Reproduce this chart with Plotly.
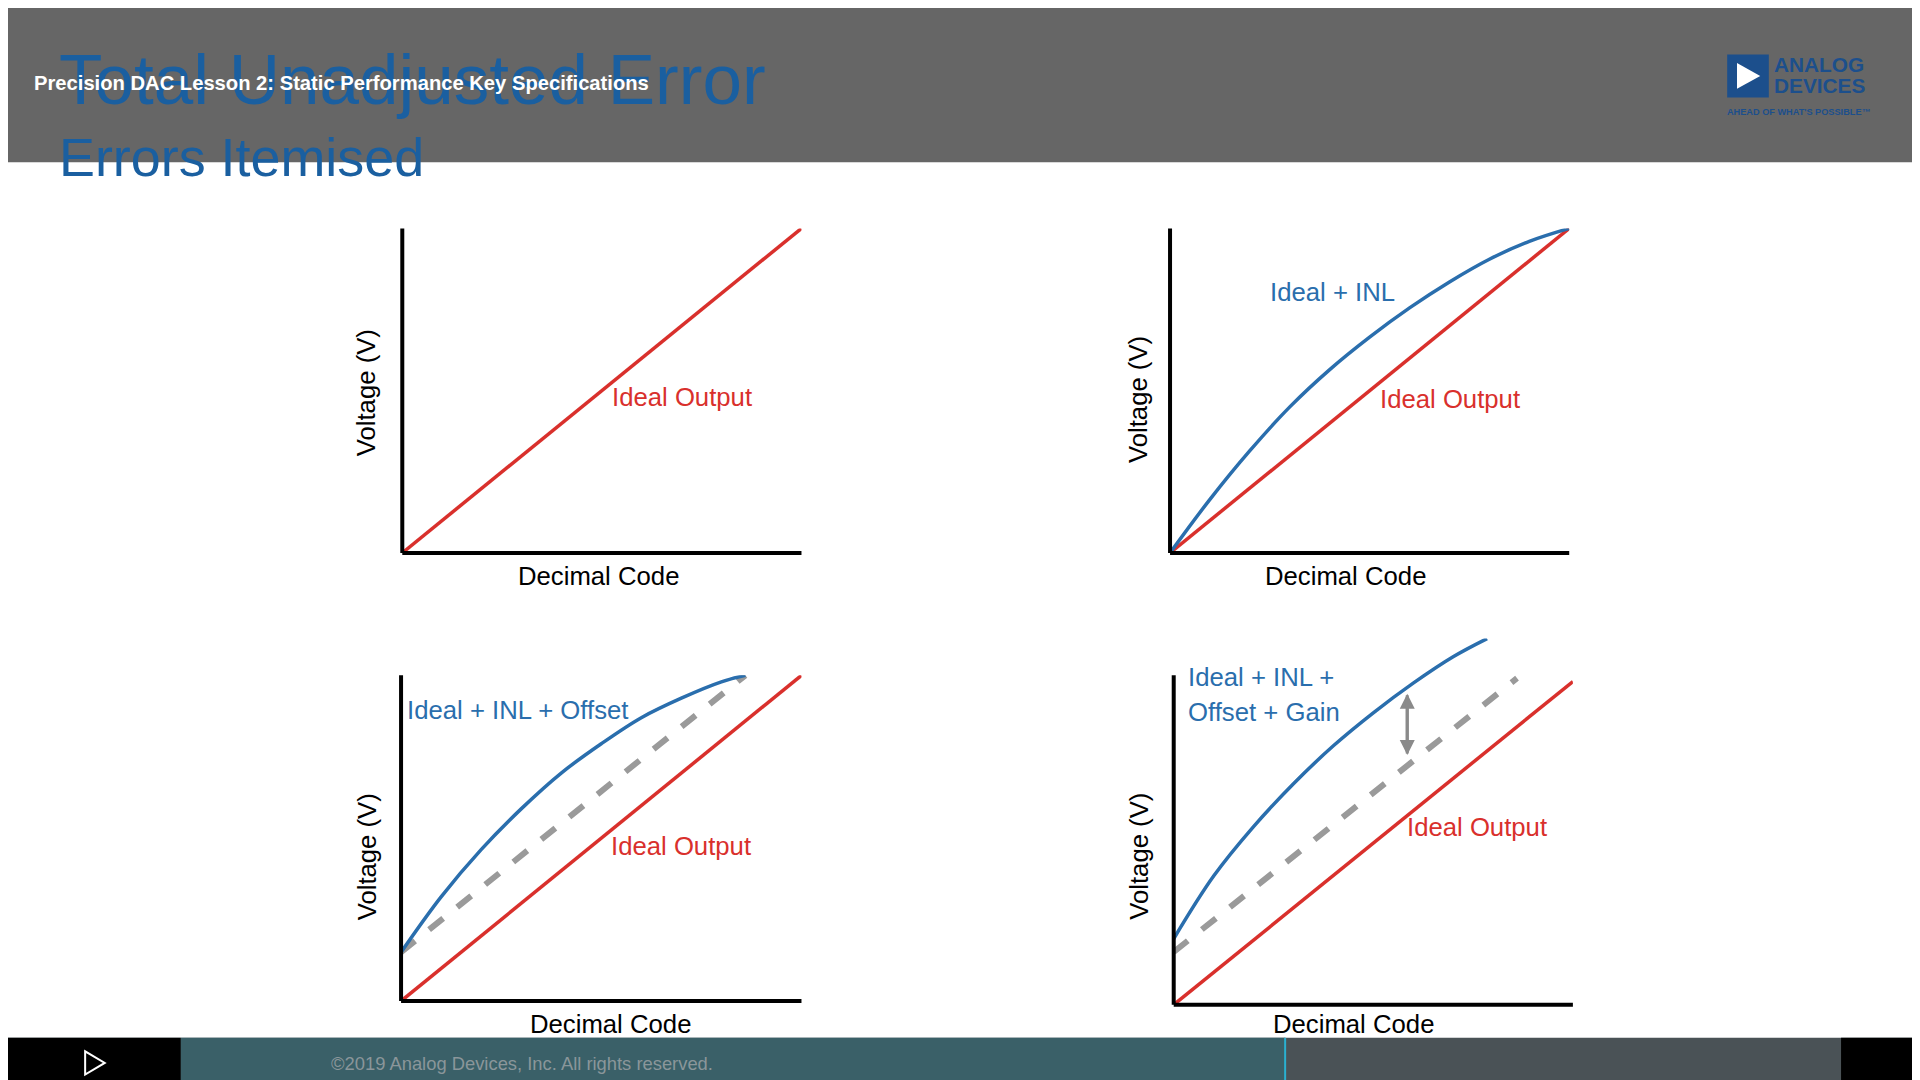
import plotly.graph_objects as go

W, H = 1568, 882  # reference pixel frame
def px(x): return x / W
def py(y): return 1 - y / H

RED = "#d9302c"; BLUE = "#2a6ead"; GRAY = "#9a9a9a"

ideal_x = [0, 1]; ideal_y = [0, 1]
inl_x = [0, .1, .2, .3, .4, .5, .6, .7, .8, .9, 1]
inl_y = [0, .165, .315, .45, .565, .665, .755, .835, .905, .96, 1.0]
off_line_x = [0, .86]; off_line_y = [.15, 1.0]
off_x = [0, .1, .2, .3, .4, .5, .6, .7, .8, .86]
off_y = [.15, .32, .465, .59, .70, .79, .87, .93, .98, 1.0]
br_red_x = [0, 1]; br_red_y = [0, .98]
gain_line_x = [0, .86]; gain_line_y = [.16, .99]
gain_x = [0, .1, .2, .3, .4, .5, .6, .7, .785]
gain_y = [.2, .39, .54, .67, .785, .885, .975, 1.055, 1.11]
arrow_x = 0.585; arrow_y = [0.757, 0.943]

boxes = [(322, 648, 445, 180, 1.0), (949, 1275, 445, 180, 1.0),
         (321, 648, 811, 545, 1.0), (952, 1278, 814, 515, 1.11)]

fig = go.Figure()
layout = dict(width=1920, height=1080, margin=dict(l=0, r=0, t=0, b=0),
              paper_bgcolor="white", plot_bgcolor="rgba(0,0,0,0)", showlegend=False,
              font=dict(family="Liberation Sans, Arial", color="black"))
for i, (x0, x1, yb, yt, ytop) in enumerate(boxes, 1):
    s = "" if i == 1 else str(i)
    layout["xaxis" + s] = dict(domain=[px(x0), px(x1)], range=[0, 1], visible=False, anchor="y" + s)
    layout["yaxis" + s] = dict(domain=[py(yb), py(yt)], range=[0, ytop], visible=False, anchor="x" + s)
fig.update_layout(**layout)

def add(x, y, n, color, dash=None, width=3.5):
    s = "" if n == 1 else str(n)
    fig.add_trace(go.Scatter(x=x, y=y, mode="lines", xaxis="x" + s, yaxis="y" + s,
                             line=dict(color=color, width=width, dash=dash, shape="spline", smoothing=1.0),
                             hoverinfo="skip"))

add(ideal_x, ideal_y, 1, RED)
add(ideal_x, ideal_y, 2, RED); add(inl_x, inl_y, 2, BLUE)
add(ideal_x, ideal_y, 3, RED); add(off_line_x, off_line_y, 3, GRAY, "dash", 6); add(off_x, off_y, 3, BLUE)
add(br_red_x, br_red_y, 4, RED); add(gain_line_x, gain_line_y, 4, GRAY, "dash", 6); add(gain_x, gain_y, 4, BLUE)

shapes = []
for i, (x0, x1, yb, yt, ytop) in enumerate(boxes, 1):
    shapes.append(dict(type="line", xref="paper", yref="paper", x0=px(x0), x1=px(x0),
                       y0=py(yb), y1=py(545 if i == 4 else yt), line=dict(color="black", width=4)))
    shapes.append(dict(type="line", xref="paper", yref="paper", x0=px(x0), x1=px(x1),
                       y0=py(yb), y1=py(yb), line=dict(color="black", width=4)))
shapes.append(dict(type="rect", xref="paper", yref="paper", x0=0, x1=1, y0=py(126), y1=1,
                   fillcolor="#666666", line=dict(width=0), layer="below"))
shapes.append(dict(type="rect", xref="paper", yref="paper", x0=0, x1=1, y0=0, y1=py(841),
                   fillcolor="#4a5256", line=dict(width=0)))
shapes.append(dict(type="rect", xref="paper", yref="paper", x0=px(141), x1=px(1043), y0=0, y1=py(841),
                   fillcolor="#3a6068", line=dict(width=0)))
shapes.append(dict(type="rect", xref="paper", yref="paper", x0=0, x1=px(141), y0=0, y1=py(841),
                   fillcolor="#000000", line=dict(width=0)))
shapes.append(dict(type="rect", xref="paper", yref="paper", x0=px(1497), x1=1, y0=0, y1=py(841),
                   fillcolor="#000000", line=dict(width=0)))
shapes.append(dict(type="line", xref="paper", yref="paper", x0=px(1043), x1=px(1043), y0=0, y1=py(841),
                   line=dict(color="#2ab0d0", width=2)))
shapes.append(dict(type="path", xref="paper", yref="paper",
                   path=f"M {px(63)},{py(852)} L {px(63)},{py(871)} L {px(79)},{py(861.5)} Z",
                   line=dict(color="white", width=2)))
shapes.append(dict(type="rect", xref="paper", yref="paper", x0=px(1404), x1=px(1438), y0=py(73), y1=py(38),
                   fillcolor="#1c4f8c", line=dict(width=0)))
shapes.append(dict(type="path", xref="paper", yref="paper",
                   path=f"M {px(1412)},{py(45)} L {px(1412)},{py(66)} L {px(1431)},{py(55.5)} Z",
                   fillcolor="white", line=dict(width=0)))
fig.update_layout(shapes=shapes)

k = 1920 / W
ann = []
def t(x, y, text, size, color="black", anchor="left", **kw):
    ann.append(dict(x=px(x), y=py(y), xref="paper", yref="paper", text=text, showarrow=False,
                    xanchor=anchor, yanchor="middle", font=dict(size=size * k, color=color), **kw))

t(40, 58, "Total Unadjusted Error", 58, "#1a5fa0")
t(40, 122, "Errors Itemised", 44, "#1a5fa0")
t(20, 61, "<b>Precision DAC Lesson 2: Static Performance Key Specifications</b>", 16.5, "white")
t(1441, 46, "<b>ANALOG</b>", 17, "#1c4f8c")
t(1441, 63, "<b>DEVICES</b>", 17, "#1c4f8c")
t(1402, 85, "<b>AHEAD OF WHAT'S POSSIBLE™</b>", 7.5, "#1c4f8c")
t(262, 862, "©2019 Analog Devices, Inc. All rights reserved.", 15, "#8a969a")

for (cx, cy) in [(293, 314), (923, 320), (293, 693), (923, 693)]:
    ann.append(dict(x=px(cx), y=py(cy), xref="paper", yref="paper", text="Voltage (V)", showarrow=False,
                    textangle=-90, xanchor="center", yanchor="middle",
                    font=dict(size=21 * k, color="black")))
for (cx, cy) in [(482, 464), (1092, 464), (492, 830), (1099, 830)]:
    t(cx, cy, "Decimal Code", 21, anchor="center")
t(492, 318, "Ideal Output", 21, RED)
t(1119, 319, "Ideal Output", 21, RED)
t(491, 684, "Ideal Output", 21, RED)
t(1141, 669, "Ideal Output", 21, RED)
t(1029, 232, "Ideal + INL", 21, BLUE)
t(324, 573, "Ideal + INL + Offset", 21, BLUE)
t(962, 546, "Ideal + INL +", 21, BLUE)
t(962, 575, "Offset + Gain", 21, BLUE)
for (ya, yb) in [(arrow_y[0], arrow_y[1]), (arrow_y[1], arrow_y[0])]:
    ann.append(dict(x=arrow_x, y=yb, ax=arrow_x, ay=ya, xref="x4", yref="y4",
                    axref="x4", ayref="y4", text="", showarrow=True, arrowhead=2,
                    arrowsize=1, arrowwidth=3, arrowcolor="#8a8a8a"))
fig.update_layout(annotations=ann)
fig.write_html("out.html")
